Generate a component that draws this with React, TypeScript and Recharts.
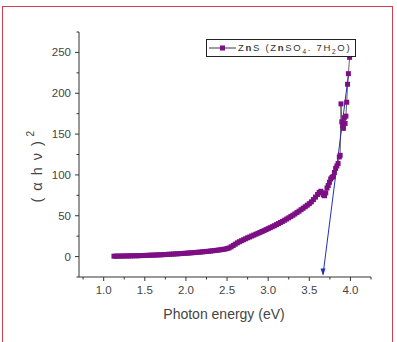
import React from 'react';
import { ComposedChart, Line, XAxis, YAxis } from 'recharts';

// Photon energy samples (eV)
const photonEnergy = [
  1.125, 1.15, 1.175, 1.2, 1.225, 1.25, 1.275, 1.3, 1.325, 1.35,
  1.375, 1.4, 1.425, 1.45, 1.475, 1.5, 1.525, 1.55, 1.575, 1.6,
  1.625, 1.65, 1.675, 1.7, 1.725, 1.75, 1.775, 1.8, 1.825, 1.85,
  1.875, 1.9, 1.925, 1.95, 1.975, 2.0, 2.025, 2.05, 2.075, 2.1,
  2.125, 2.15, 2.175, 2.2, 2.225, 2.25, 2.275, 2.3, 2.325, 2.35,
  2.375, 2.4, 2.425, 2.45, 2.475, 2.5, 2.525, 2.55, 2.575, 2.6,
  2.625, 2.65, 2.675, 2.7, 2.725, 2.75, 2.775, 2.8, 2.825, 2.85,
  2.875, 2.9, 2.925, 2.95, 2.975, 3.0, 3.025, 3.05, 3.075, 3.1,
  3.125, 3.15, 3.175, 3.2, 3.225, 3.25, 3.275, 3.3, 3.325, 3.35,
  3.375, 3.4, 3.425, 3.45, 3.475, 3.5, 3.525, 3.55, 3.575, 3.6,
  3.62, 3.64, 3.655, 3.67, 3.685, 3.7, 3.715, 3.73, 3.745, 3.76,
  3.775, 3.79, 3.805, 3.82, 3.835, 3.85, 3.865, 3.875, 3.885, 3.895,
  3.905, 3.915, 3.925, 3.935, 3.945, 3.955, 3.965, 3.975, 3.99,
];

// (alpha h nu)^2 values for each energy
const absorption = [
  0.5, 0.5, 0.6, 0.6, 0.7, 0.7, 0.8, 0.8, 0.9, 0.9,
  1.0, 1.0, 1.1, 1.2, 1.3, 1.4, 1.5, 1.6, 1.7, 1.8,
  1.9, 2.0, 2.1, 2.2, 2.4, 2.5, 2.7, 2.8, 3.0, 3.1,
  3.3, 3.4, 3.6, 3.8, 3.9, 4.1, 4.3, 4.5, 4.7, 4.9,
  5.1, 5.3, 5.5, 5.8, 6.0, 6.3, 6.5, 6.8, 7.1, 7.4,
  7.7, 8.0, 8.4, 8.8, 9.2, 9.8, 10.6, 12.0, 13.6, 15.2,
  16.8, 18.2, 19.4, 20.6, 21.8, 23.0, 24.0, 25.2, 26.3, 27.4,
  28.5, 29.6, 30.7, 31.8, 33.0, 34.2, 35.4, 36.6, 37.8, 39.1,
  40.4, 41.8, 43.1, 44.5, 46.0, 47.5, 49.0, 50.6, 52.2, 53.9,
  55.6, 57.4, 59.2, 61.0, 62.9, 64.8, 67.0, 69.8, 72.8, 76.0,
  78.5, 80.0, 78.0, 75.5, 74.5, 78.0, 84.0, 87.0, 91.0, 95.0,
  97.0, 98.0, 103, 108, 111, 114, 122, 124, 187, 165,
  160, 157, 170, 163, 172, 189, 211, 224, 244,
];

// Linear fit of the absorption edge, extrapolated to the energy axis
const tangentEnergy = [3.667, 3.975];
const tangentValue = [-22, 222];

const xTicks = [0.75, 1.0, 1.25, 1.5, 1.75, 2.0, 2.25, 2.5, 2.75, 3.0, 3.25, 3.5, 3.75, 4.0, 4.25];
const yTicks = [-25, 0, 25, 50, 75, 100, 125, 150, 175, 200, 225, 250, 275];

const seriesData = photonEnergy.map((x, i) => ({ x, y: absorption[i] }));
const tangentData = tangentEnergy.map((x, i) => ({ x, y: tangentValue[i] }));

const PURPLE = '#7d0f85';
const BLUE = '#2230b8';
const AXIS = '#333';
const FONT = '"Liberation Sans", Arial, sans-serif';
const DOT = 5;

const XTick = (props: any) => {
  const { x, y, payload } = props;
  const v = payload.value as number;
  const major = Math.abs(v * 2 - Math.round(v * 2)) < 1e-6;
  return (
    <g>
      <line x1={x} y1={y} x2={x} y2={y + (major ? 4 : 2.5)} stroke={AXIS} strokeWidth={1} />
      {major && (
        <text x={x} y={y + 17} textAnchor="middle" fontSize={11.5} fill="#444" fontFamily={FONT}>
          {v.toFixed(1)}
        </text>
      )}
    </g>
  );
};

const YTick = (props: any) => {
  const { x, y, payload } = props;
  const v = payload.value as number;
  const major = v >= 0 && v % 50 === 0;
  return (
    <g>
      <line x1={x} y1={y} x2={x - (major ? 4 : 2.5)} y2={y} stroke={AXIS} strokeWidth={1} />
      {major && (
        <text x={x - 8} y={y + 4} textAnchor="end" fontSize={11.5} fill="#444" fontFamily={FONT}>
          {v}
        </text>
      )}
    </g>
  );
};

const SquareDot = (props: any) => {
  const { cx, cy, index } = props;
  if (cx == null || cy == null) return <g key={`d${index}`} />;
  return <rect key={`d${index}`} x={cx - DOT / 2} y={cy - DOT / 2} width={DOT} height={DOT} fill={PURPLE} />;
};

const ArrowDot = (props: any) => {
  const { cx, cy, index } = props;
  if (index !== 0 || cx == null) return <g key={`a${index}`} />;
  return <path key={`a${index}`} d={`M${cx},${cy + 1} L${cx - 2.5},${cy - 6} L${cx + 2.5},${cy - 6} Z`} fill={BLUE} />;
};

const YLabel = () => (
  <text
    x={42}
    y={166}
    transform="rotate(-90, 42, 166)"
    textAnchor="middle"
    fontSize={14.5}
    fill="#444"
    fontFamily={FONT}
    letterSpacing={1.5}
  >
    ( α h ν )
    <tspan dy={-8} dx={3} fontSize={10}>2</tspan>
  </text>
);

const XLabel = () => (
  <text x={224} y={319} textAnchor="middle" fontSize={14} fill="#444" fontFamily={FONT}>
    Photon energy (eV)
  </text>
);

export default function App() {
  return (
    <div style={{ position: 'absolute', left: 0, top: 0, width: 397, height: 342, background: '#fff', overflow: 'hidden' }}>
      <div
        style={{
          position: 'absolute',
          left: 1.5,
          top: 5.5,
          width: 391,
          height: 345,
          border: '1.5px solid #d0404f',
          boxSizing: 'border-box',
        }}
      />
      <ComposedChart width={397} height={342} margin={{ top: 32, right: 26, bottom: 35, left: 39 }}>
        <XAxis
          type="number"
          dataKey="x"
          domain={[0.7, 4.25]}
          ticks={xTicks}
          interval={0}
          allowDataOverflow
          height={30}
          stroke={AXIS}
          tickSize={0}
          tickMargin={0}
          tick={<XTick />}
          label={<XLabel />}
        />
        <YAxis
          type="number"
          dataKey="y"
          domain={[-25, 275]}
          ticks={yTicks}
          interval={0}
          allowDataOverflow
          width={40}
          stroke={AXIS}
          tickSize={0}
          tickMargin={0}
          tick={<YTick />}
          label={<YLabel />}
        />
        <Line
          data={seriesData}
          dataKey="y"
          type="linear"
          stroke="#3c3c3c"
          strokeWidth={0.8}
          dot={SquareDot}
          activeDot={false}
          isAnimationActive={false}
        />
        <Line
          data={tangentData}
          dataKey="y"
          type="linear"
          stroke={BLUE}
          strokeWidth={1}
          dot={ArrowDot}
          activeDot={false}
          isAnimationActive={false}
        />
      </ComposedChart>
      <div
        style={{
          position: 'absolute',
          left: 206,
          top: 39,
          width: 150,
          height: 18,
          border: '1px solid #222',
          boxSizing: 'border-box',
          background: '#fff',
          display: 'flex',
          alignItems: 'center',
          fontFamily: FONT,
          fontSize: 9.5,
          color: '#333',
          whiteSpace: 'nowrap',
        }}
      >
        <svg width={30} height={16} style={{ marginLeft: 1, flex: 'none' }}>
          <line x1={1} y1={8} x2={28} y2={8} stroke="#3c3c3c" strokeWidth={1} />
          <rect x={12} y={5.5} width={DOT} height={DOT} fill={PURPLE} />
        </svg>
        <span style={{ letterSpacing: 1.7, lineHeight: '16px', marginLeft: 0 }}>
          Z<b>n</b>S (Z<b>n</b>SO<sub style={{ fontSize: 6.5, lineHeight: 0 }}>4</sub>. 7H
          <sub style={{ fontSize: 6.5, lineHeight: 0 }}>2</sub>O)
        </span>
      </div>
    </div>
  );
}
